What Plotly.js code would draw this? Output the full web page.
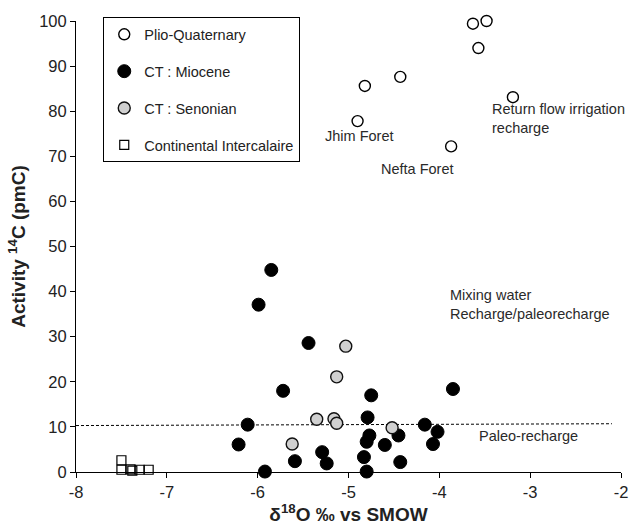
<!DOCTYPE html>
<html>
<head>
<meta charset="utf-8">
<script src="https://cdn.plot.ly/plotly-3.0.1.min.js"></script>
<style>html,body{margin:0;padding:0;background:#fff;}#chart{width:629px;height:530px;}</style>
</head>
<body>
<div id="chart"></div>
<script>
// ---- Data ----
const seriesNames = ["Plio-Quaternary", "CT : Miocene", "CT : Senonian", "Continental Intercalaire"];

const plioX = [-3.63, -3.48, -3.57, -4.43, -4.82, -3.19, -4.90, -3.87];
const plioY = [99.4, 100.0, 94.0, 87.6, 85.6, 83.1, 77.8, 72.2];

const mioX = [-5.85, -5.99, -5.44, -5.72, -4.75, -3.85, -4.79, -6.11, -4.16, -4.02, -4.77, -4.80,
              -4.45, -4.60, -4.07, -6.21, -5.29, -4.83, -5.59, -5.24, -4.43, -5.92, -4.80];
const mioY = [44.8, 37.1, 28.6, 18.0, 17.0, 18.4, 12.1, 10.5, 10.5, 8.9, 8.1, 6.7,
              8.1, 6.0, 6.2, 6.1, 4.4, 3.3, 2.4, 1.9, 2.2, 0.1, 0.1];

const senX = [-5.03, -5.13, -5.35, -5.16, -5.13, -4.52, -5.62];
const senY = [27.9, 21.1, 11.7, 11.8, 10.8, 9.8, 6.2];

const ciX = [-7.50, -7.50, -7.40, -7.38, -7.30, -7.20];
const ciY = [2.6, 0.5, 0.6, 0.3, 0.5, 0.5];

const paleoLineX = [-8, -2.1];
const paleoLineY = [10.3, 10.7];

const xTicks = [-8, -7, -6, -5, -4, -3, -2];
const yTicks = [0, 10, 20, 30, 40, 50, 60, 70, 80, 90, 100];

const noteTexts = ["Return flow irrigation<br>recharge", "Jhim Foret", "Nefta Foret",
                   "Mixing water<br>Recharge/paleorecharge", "Paleo-recharge"];
const noteX = [-3.44, -5.28, -4.66, -3.91, -3.58];
const noteY = [78.4, 74.5, 67.1, 37.2, 8.0];

// ---- Chart ----
const FONT = "Liberation Sans, Arial, sans-serif";

const traces = [
  {x: paleoLineX, y: paleoLineY, mode: "lines", showlegend: false, hoverinfo: "skip",
   line: {color: "#000", width: 1, dash: "3px,2px"}},
  {x: plioX, y: plioY, mode: "markers", name: seriesNames[0], legendgroup: "a",
   marker: {symbol: "circle", size: 11, color: "#fff", line: {color: "#000", width: 1.4}}, cliponaxis: false},
  {x: mioX, y: mioY, mode: "markers", name: seriesNames[1], legendgroup: "b",
   marker: {symbol: "circle", size: 13, color: "#000", line: {color: "#000", width: 1}}, cliponaxis: false},
  {x: senX, y: senY, mode: "markers", name: seriesNames[2], legendgroup: "c",
   marker: {symbol: "circle", size: 12, color: "#d0d0d0", line: {color: "#111", width: 1.4}}, cliponaxis: false},
  {x: ciX, y: ciY, mode: "markers", name: seriesNames[3], legendgroup: "d",
   marker: {symbol: "square", size: 9, color: "rgba(255,255,255,0)", line: {color: "#000", width: 1.2}}, cliponaxis: false}
];

const annotations = noteTexts.map((t, i) => ({
  x: noteX[i], y: noteY[i], xref: "x", yref: "y", text: t, showarrow: false,
  xanchor: "left", yanchor: "middle", align: "left",
  font: {family: FONT, size: 14.5, color: "#2a2a2a"}
}));

const layout = {
  width: 629, height: 530,
  margin: {l: 76, r: 8, t: 21, b: 58},
  paper_bgcolor: "#fff", plot_bgcolor: "#fff",
  font: {family: FONT, color: "#222"},
  xaxis: {
    range: [-8, -2], tickvals: xTicks, ticktext: xTicks.map(String),
    showgrid: false, zeroline: false, showline: true, linecolor: "#000", linewidth: 1,
    ticks: "outside", ticklen: 5, tickcolor: "#000", tickfont: {size: 16.5, color: "#222"},
    ticklabeloverflow: "allow",
    title: {text: "δ<sup>18</sup>O ‰ vs SMOW", font: {size: 19, family: "Liberation Sans, Arial, sans-serif", weight: "bold", color: "#222"}, standoff: 6}
  },
  yaxis: {
    range: [0, 100], tickvals: yTicks,
    showgrid: false, zeroline: false, showline: true, linecolor: "#000", linewidth: 1,
    ticks: "outside", ticklen: 5, tickcolor: "#000", tickfont: {size: 16.5, color: "#222"},
    ticklabeloverflow: "allow",
    title: {text: "Activity <sup>14</sup>C (pmC)", font: {size: 19, family: "Liberation Sans, Arial, sans-serif", weight: "bold", color: "#222"}, standoff: 8}
  },
  showlegend: true,
  legend: {
    x: 0.05, y: 1.008, xanchor: "left", yanchor: "top",
    bgcolor: "#fff", bordercolor: "#000", borderwidth: 1,
    font: {size: 14.5, color: "#222"},
    traceorder: "grouped", tracegroupgap: 15
  },
  annotations: annotations
};

Plotly.newPlot("chart", traces, layout, {staticPlot: true, displayModeBar: false});
</script>
</body>
</html>
